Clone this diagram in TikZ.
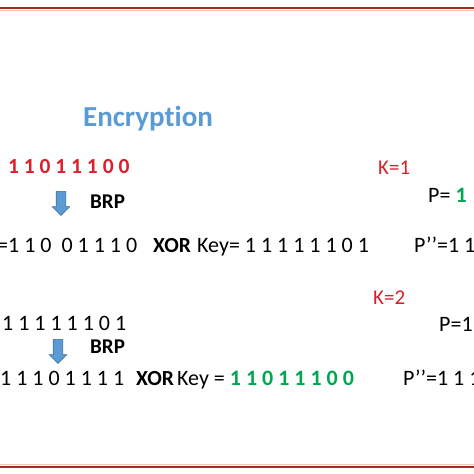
\documentclass[tikz,border=0pt]{standalone}
\usepackage{fontspec}
\setmainfont{Carlito}[Ligatures=NoCommon]
\usepackage{xcolor}
\usetikzlibrary{shapes.arrows}
\definecolor{encblue}{HTML}{5B9BD5}
\definecolor{arrowedge}{HTML}{41719C}
\definecolor{bitred}{HTML}{D9202C}
\definecolor{bitgreen}{HTML}{00A651}
\definecolor{rulered}{HTML}{A0301E}
\definecolor{rulehalo}{HTML}{F8C8B0}
\tikzset{
  txt/.style={anchor=base west, inner sep=0pt, font=\fontsize{22}{26}\selectfont},
  boldtxt/.style={txt, font=\fontsize{21.5}{26}\selectfont\bfseries},
  kval/.style={txt, text=bitred, font=\fontsize{21}{25}\selectfont},
  brp/.style={txt, font=\fontsize{21}{25}\selectfont\bfseries},
  brparrow/.style={draw=arrowedge, fill=encblue, single arrow, rotate=-90,
                   minimum height=24pt, inner xsep=0pt, inner ysep=4.5pt,
                   single arrow head extend=4pt, line width=0.6pt},
  rule/.style={draw=rulered, line width=1.8pt},
}
\begin{document}
\begin{tikzpicture}[x=1pt, y=-1pt]
  \useasboundingbox (0,0) rectangle (474,474);
  \clip (0,0) rectangle (474,474);
  \draw[rulehalo, line width=1.5pt] (0,10.5) -- (474,10.5);
  \draw[rule] (0,8) -- (474,8);
  \draw[rulehalo, line width=1.5pt] (0,464.5) -- (474,464.5);
  \draw[rule] (0,467) -- (474,467);

  \node[anchor=base, inner sep=0pt, text=encblue, font=\fontsize{29}{33}\selectfont\bfseries]
    (title) at (148,126) {Encryption};

  % first round
  \node[boldtxt, text=bitred] (p0)  at (8,173)   {1 1 0 1 1 1 0 0};
  \node[kval]                 (k1)  at (378,174) {K=1};
  \node[txt]                  (pa)  at (428,202) {P= \textcolor{bitgreen}{\bfseries 1}};
  \node[brparrow]             (a1)  at (61,201)  {};
  \node[brp]                  (b1)  at (90,208)  {BRP};
  \node[txt]                  (q1)  at (-3,252)  {=1 1 0\ \ 0 1 1 1 0};
  \node[boldtxt]              (x1)  at (153,252) {XOR};
  \node[txt]                  (key1) at (197,252) {Key= 1 1 1 1 1 1 0 1};
  \node[txt]                  (r1)  at (414,252) {P’’=1 1};

  % second round
  \node[kval]                 (k2)  at (373,304) {K=2};
  \node[txt]                  (q2)  at (2,330)   {1 1 1 1 1 1 0 1};
  \node[txt]                  (pb)  at (439,331) {P=1};
  \node[brparrow]             (a2)  at (58,349)  {};
  \node[brp]                  (b2)  at (90,353)  {BRP};
  \node[txt]                  (q3)  at (0,385)   {1 1 1 0 1 1 1 1};
  \node[boldtxt]              (x2)  at (136,385) {XOR};
  \node[txt]                  (key2) at (177,385) {Key = \textcolor{bitgreen}{\bfseries 1 1 0 1 1 1 0 0}};
  \node[txt]                  (r2)  at (403,385) {P’’=1 1 1};
\end{tikzpicture}
\end{document}
